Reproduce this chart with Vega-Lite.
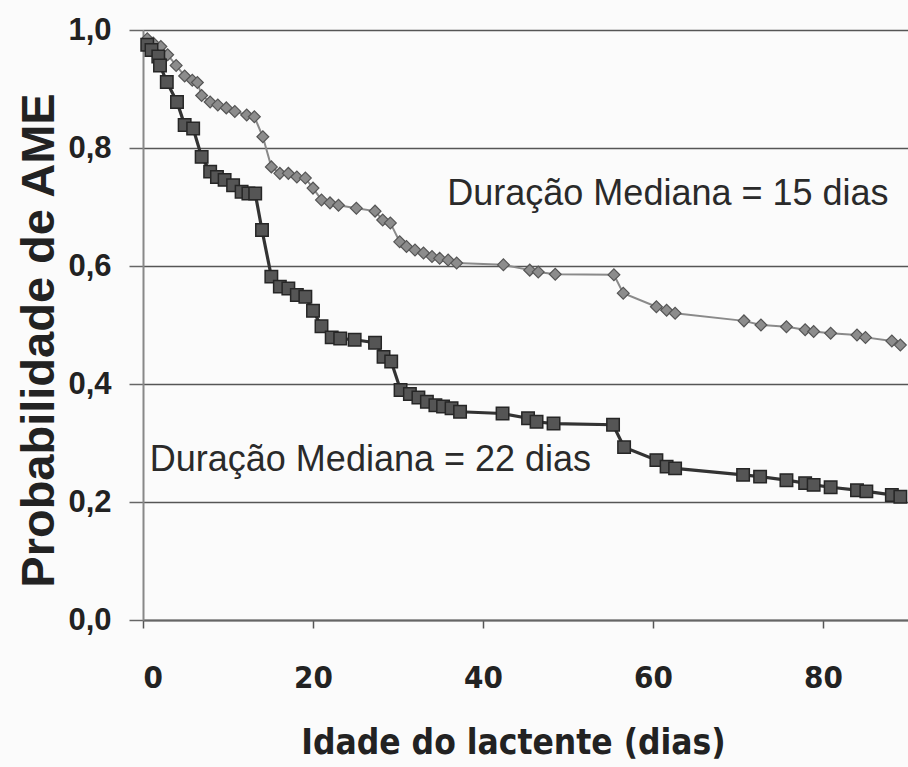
{
  "$schema": "https://vega.github.io/schema/vega-lite/v6.json",
  "width": 765,
  "height": 590,
  "autosize": {"type": "none"},
  "padding": {"left": 143, "top": 30, "right": 0, "bottom": 147},
  "background": "#fbfbfb",
  "config": {"view": {"stroke": null}},
  "datasets": {
    "upper": [
      {"dias": 0.5, "prob": 0.985}, {"dias": 1.2, "prob": 0.978}, {"dias": 2.1, "prob": 0.972},
      {"dias": 2.9, "prob": 0.958}, {"dias": 3.9, "prob": 0.94}, {"dias": 4.9, "prob": 0.922},
      {"dias": 5.8, "prob": 0.915}, {"dias": 6.4, "prob": 0.911}, {"dias": 6.9, "prob": 0.889},
      {"dias": 7.9, "prob": 0.878}, {"dias": 8.8, "prob": 0.873}, {"dias": 9.8, "prob": 0.868},
      {"dias": 10.8, "prob": 0.862}, {"dias": 12.2, "prob": 0.856}, {"dias": 13.1, "prob": 0.853},
      {"dias": 14.1, "prob": 0.819}, {"dias": 15.1, "prob": 0.768}, {"dias": 16.1, "prob": 0.757},
      {"dias": 17.1, "prob": 0.757}, {"dias": 18.1, "prob": 0.751}, {"dias": 19.1, "prob": 0.749},
      {"dias": 20.0, "prob": 0.732}, {"dias": 21.0, "prob": 0.712}, {"dias": 22.0, "prob": 0.707},
      {"dias": 23.0, "prob": 0.703}, {"dias": 25.1, "prob": 0.698}, {"dias": 27.3, "prob": 0.693},
      {"dias": 28.2, "prob": 0.678}, {"dias": 29.1, "prob": 0.673}, {"dias": 30.2, "prob": 0.641},
      {"dias": 31.0, "prob": 0.633}, {"dias": 32.0, "prob": 0.627}, {"dias": 33.0, "prob": 0.622},
      {"dias": 34.0, "prob": 0.616}, {"dias": 34.9, "prob": 0.613}, {"dias": 35.9, "prob": 0.61},
      {"dias": 36.9, "prob": 0.605}, {"dias": 42.4, "prob": 0.602}, {"dias": 45.5, "prob": 0.593},
      {"dias": 46.5, "prob": 0.59}, {"dias": 48.5, "prob": 0.586}, {"dias": 55.4, "prob": 0.585},
      {"dias": 56.5, "prob": 0.554}, {"dias": 60.4, "prob": 0.531}, {"dias": 61.6, "prob": 0.525},
      {"dias": 62.6, "prob": 0.52}, {"dias": 70.7, "prob": 0.507}, {"dias": 72.7, "prob": 0.5},
      {"dias": 75.7, "prob": 0.497}, {"dias": 77.9, "prob": 0.492}, {"dias": 78.9, "prob": 0.489},
      {"dias": 80.9, "prob": 0.486}, {"dias": 84.0, "prob": 0.483}, {"dias": 85.0, "prob": 0.479},
      {"dias": 88.1, "prob": 0.473}, {"dias": 89.1, "prob": 0.466}
    ],
    "lower": [
      {"dias": 0.5, "prob": 0.975}, {"dias": 1.0, "prob": 0.966}, {"dias": 1.8, "prob": 0.955},
      {"dias": 2.0, "prob": 0.94}, {"dias": 2.8, "prob": 0.912}, {"dias": 4.0, "prob": 0.878},
      {"dias": 4.9, "prob": 0.839}, {"dias": 5.9, "prob": 0.833}, {"dias": 6.9, "prob": 0.785},
      {"dias": 7.9, "prob": 0.76}, {"dias": 8.7, "prob": 0.751}, {"dias": 9.6, "prob": 0.746},
      {"dias": 10.6, "prob": 0.737}, {"dias": 11.6, "prob": 0.726}, {"dias": 12.4, "prob": 0.723},
      {"dias": 13.2, "prob": 0.723}, {"dias": 14.0, "prob": 0.661}, {"dias": 15.1, "prob": 0.582},
      {"dias": 16.1, "prob": 0.565}, {"dias": 17.1, "prob": 0.562}, {"dias": 18.1, "prob": 0.551},
      {"dias": 19.1, "prob": 0.548}, {"dias": 20.0, "prob": 0.524}, {"dias": 21.0, "prob": 0.498},
      {"dias": 22.2, "prob": 0.479}, {"dias": 23.2, "prob": 0.477}, {"dias": 24.9, "prob": 0.475},
      {"dias": 27.3, "prob": 0.47}, {"dias": 28.3, "prob": 0.446}, {"dias": 29.2, "prob": 0.438},
      {"dias": 30.3, "prob": 0.39}, {"dias": 31.4, "prob": 0.383}, {"dias": 32.4, "prob": 0.377},
      {"dias": 33.4, "prob": 0.37}, {"dias": 34.4, "prob": 0.364}, {"dias": 35.3, "prob": 0.362},
      {"dias": 36.3, "prob": 0.359}, {"dias": 37.3, "prob": 0.353}, {"dias": 42.3, "prob": 0.35},
      {"dias": 45.3, "prob": 0.342}, {"dias": 46.3, "prob": 0.336}, {"dias": 48.3, "prob": 0.333},
      {"dias": 55.3, "prob": 0.331}, {"dias": 56.6, "prob": 0.293}, {"dias": 60.4, "prob": 0.271},
      {"dias": 61.6, "prob": 0.26}, {"dias": 62.6, "prob": 0.257}, {"dias": 70.6, "prob": 0.246},
      {"dias": 72.6, "prob": 0.243}, {"dias": 75.7, "prob": 0.237}, {"dias": 77.9, "prob": 0.232},
      {"dias": 78.9, "prob": 0.229}, {"dias": 80.9, "prob": 0.225}, {"dias": 84.0, "prob": 0.22},
      {"dias": 85.1, "prob": 0.218}, {"dias": 88.1, "prob": 0.212}, {"dias": 89.1, "prob": 0.209}
    ],
    "notes": [
      {"dias": 35.8, "prob": 0.703, "texto": "Duração Mediana = 15 dias"},
      {"dias": 0.8, "prob": 0.252, "texto": "Duração Mediana = 22 dias"}
    ]
  },
  "encoding": {
    "x": {
      "field": "dias", "type": "quantitative",
      "scale": {"domain": [0, 90], "nice": false},
      "axis": {
        "title": "Idade do lactente (dias)",
        "values": [0, 20, 40, 60, 80],
        "grid": false,
        "domainColor": "#666", "domainWidth": 2,
        "tickColor": "#555", "tickSize": 8, "tickWidth": 1.5,
        "labelFont": "DejaVu Sans Condensed, Liberation Sans",
        "labelFontWeight": "bold", "labelFontSize": 31, "labelColor": "#222",
        "labelPadding": 35,
        "titleFont": "DejaVu Sans Condensed, Liberation Sans",
        "titleFontWeight": "bold", "titleFontSize": 35, "titleColor": "#222",
        "titleX": 370, "titleY": 133, "titleAlign": "center", "titleBaseline": "alphabetic"
      }
    },
    "y": {
      "field": "prob", "type": "quantitative",
      "scale": {"domain": [0, 1], "nice": false},
      "axis": {
        "title": "Probabilidade de AME",
        "values": [0, 0.2, 0.4, 0.6, 0.8, 1.0],
        "labelExpr": "replace(format(datum.value, '.1f'), '.', ',')",
        "grid": true, "gridColor": "#555", "gridWidth": 1.5,
        "domainColor": "#888", "domainWidth": 2,
        "tickColor": "#666", "tickSize": 14, "tickWidth": 1.5,
        "labelFont": "Liberation Sans", "labelFontWeight": "bold", "labelFontSize": 31,
        "labelColor": "#222", "labelPadding": 18,
        "titleFont": "Liberation Sans", "titleFontWeight": "bold", "titleFontSize": 47,
        "titleColor": "#222", "titleAngle": -90, "titleX": -90, "titleY": 310,
        "titleAlign": "center", "titleBaseline": "alphabetic"
      }
    }
  },
  "layer": [
    {
      "data": {"name": "upper"},
      "mark": {"type": "line", "color": "#8a8a8a", "strokeWidth": 2},
      "encoding": {}
    },
    {
      "data": {"name": "upper"},
      "mark": {"type": "point", "shape": "diamond", "size": 140, "filled": true, "fill": "#8c8c8c", "stroke": "#555", "strokeWidth": 1.2, "opacity": 1}
    },
    {
      "data": {"name": "lower"},
      "mark": {"type": "line", "color": "#333", "strokeWidth": 3.2},
      "encoding": {}
    },
    {
      "data": {"name": "lower"},
      "mark": {"type": "point", "shape": "square", "size": 155, "filled": true, "fill": "#555", "stroke": "#262626", "strokeWidth": 1.5, "opacity": 1}
    },
    {
      "data": {"name": "notes"},
      "mark": {"type": "text", "align": "left", "baseline": "alphabetic", "font": "Liberation Sans", "fontSize": 36, "color": "#2a2a2a"},
      "encoding": {"text": {"field": "texto"}}
    }
  ]
}
